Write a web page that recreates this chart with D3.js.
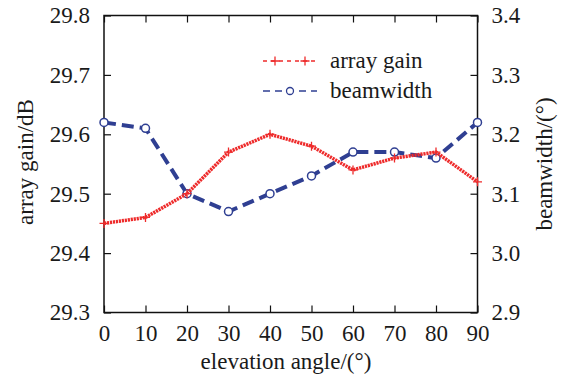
<!DOCTYPE html>
<html>
<head>
<meta charset="utf-8">
<script src="https://cdn.jsdelivr.net/npm/d3@7"></script>
<style>
  html, body { margin: 0; padding: 0; background: #fff; }
  #chart text { font-family: 'Liberation Serif', 'Times New Roman', serif !important; fill: #1a1a1a; }
</style>
</head>
<body>
<svg id="chart" width="564" height="377"></svg>
<script>
// Elevation angles (degrees)
const angles = [0, 10, 20, 30, 40, 50, 60, 70, 80, 90];
// Array gain in dB at each elevation angle
const arrayGain = [29.45, 29.46, 29.50, 29.57, 29.60, 29.58, 29.54, 29.56, 29.57, 29.52];
// Beamwidth in degrees at each elevation angle
const beamwidth = [3.22, 3.21, 3.10, 3.07, 3.10, 3.13, 3.17, 3.17, 3.16, 3.22];

const xTicks = [0, 10, 20, 30, 40, 50, 60, 70, 80, 90];
const gainTicks = [29.3, 29.4, 29.5, 29.6, 29.7, 29.8];
const beamTicks = [2.9, 3.0, 3.1, 3.2, 3.3, 3.4];

const seriesNames = ["array gain", "beamwidth"];

const svg = d3.select("#chart");
const plotLeft = 104, plotRight = 477.5, plotTop = 15.5, plotBottom = 312.5;
const fs = 23;
const serif = "'Liberation Serif', 'Times New Roman', serif";

const x = d3.scaleLinear().domain([0, 90]).range([plotLeft, plotRight]);
const yL = d3.scaleLinear().domain([29.3, 29.8]).range([plotBottom, plotTop]);
const yR = d3.scaleLinear().domain([2.9, 3.4]).range([plotBottom, plotTop]);

const red = "#ee2b2b";
const blue = "#2f3f92";
const tickLen = 7;

// Axes with inward ticks
function styleAxis(g) {
  g.attr("font-family", serif);
  g.select(".domain").remove();
  g.selectAll(".tick line").attr("stroke", "#111").attr("stroke-width", 1.2);
  g.selectAll(".tick text").attr("font-size", fs).style("font-family", serif);
}

svg.append("g").attr("transform", `translate(0,${plotBottom})`)
  .call(d3.axisBottom(x).tickValues(xTicks).tickSizeInner(-tickLen).tickSizeOuter(0).tickPadding(12).tickFormat(d3.format("d")))
  .call(styleAxis);
svg.append("g").attr("transform", `translate(0,${plotTop})`)
  .call(d3.axisTop(x).tickValues(xTicks).tickSizeInner(-tickLen).tickSizeOuter(0).tickFormat(""))
  .call(styleAxis);
svg.append("g").attr("transform", `translate(${plotLeft},0)`)
  .call(d3.axisLeft(yL).tickValues(gainTicks).tickSizeInner(-tickLen).tickSizeOuter(0).tickPadding(14).tickFormat(d3.format(".1f")))
  .call(styleAxis);
svg.append("g").attr("transform", `translate(${plotRight},0)`)
  .call(d3.axisRight(yR).tickValues(beamTicks).tickSizeInner(-tickLen).tickSizeOuter(0).tickPadding(14).tickFormat(d3.format(".1f")))
  .call(styleAxis);

// Frame
svg.append("rect")
  .attr("x", plotLeft).attr("y", plotTop)
  .attr("width", plotRight - plotLeft).attr("height", plotBottom - plotTop)
  .attr("fill", "none").attr("stroke", "#111").attr("stroke-width", 1.5);

// Beamwidth series (right axis)
const beamLine = d3.line().x((d, i) => x(angles[i])).y(d => yR(d));
svg.append("path").datum(beamwidth)
  .attr("d", beamLine)
  .attr("fill", "none").attr("stroke", blue).attr("stroke-width", 4)
  .attr("stroke-dasharray", "12,6");
svg.append("g").selectAll("circle").data(beamwidth).join("circle")
  .attr("cx", (d, i) => x(angles[i])).attr("cy", d => yR(d))
  .attr("r", 4).attr("fill", "#fff").attr("stroke", blue).attr("stroke-width", 1.5);

// Array gain series (left axis)
const gainLine = d3.line().x((d, i) => x(angles[i])).y(d => yL(d));
svg.append("path").datum(arrayGain)
  .attr("d", gainLine)
  .attr("fill", "none").attr("stroke", red).attr("stroke-width", 3.5)
  .attr("stroke-dasharray", "2.2,0.8");
const plusPath = "M-4.5,0H4.5M0,-4.5V4.5";
svg.append("g").selectAll("path").data(arrayGain).join("path")
  .attr("transform", (d, i) => `translate(${x(angles[i])},${yL(d)})`)
  .attr("d", plusPath)
  .attr("stroke", red).attr("stroke-width", 1.3).attr("fill", "none");

// Legend
const lg = svg.append("g");
const lx0 = 263, lx1 = 317, ly = [61, 91];
// array gain entry
lg.append("line").attr("x1", lx0).attr("x2", lx1).attr("y1", ly[0]).attr("y2", ly[0])
  .attr("stroke", red).attr("stroke-width", 1.4).attr("stroke-dasharray", "4,4");
[275, 305].forEach(px => {
  lg.append("path").attr("transform", `translate(${px},${ly[0]})`).attr("d", plusPath)
    .attr("stroke", red).attr("stroke-width", 1.3);
});
// beamwidth entry
lg.append("line").attr("x1", lx0).attr("x2", lx1).attr("y1", ly[1]).attr("y2", ly[1])
  .attr("stroke", blue).attr("stroke-width", 1.4).attr("stroke-dasharray", "7,5");
lg.append("circle").attr("cx", 290).attr("cy", ly[1]).attr("r", 3.5)
  .attr("fill", "#fff").attr("stroke", blue).attr("stroke-width", 1.3);
lg.selectAll("text").data(seriesNames).join("text")
  .attr("x", 330).attr("y", (d, i) => ly[i] + 7)
  .attr("font-size", fs).style("font-family", serif).text(d => d);

// Axis titles
svg.append("text").attr("x", 286).attr("y", 369).attr("text-anchor", "middle")
  .attr("font-size", fs).style("font-family", serif).text("elevation angle/(°)");
svg.append("text").attr("transform", "translate(33,162) rotate(-90)").attr("text-anchor", "middle")
  .attr("font-size", fs).style("font-family", serif).text("array gain/dB");
svg.append("text").attr("transform", "translate(552,164) rotate(-90)").attr("text-anchor", "middle")
  .attr("font-size", fs).style("font-family", serif).text("beamwidth/(°)");
</script>
</body>
</html>
